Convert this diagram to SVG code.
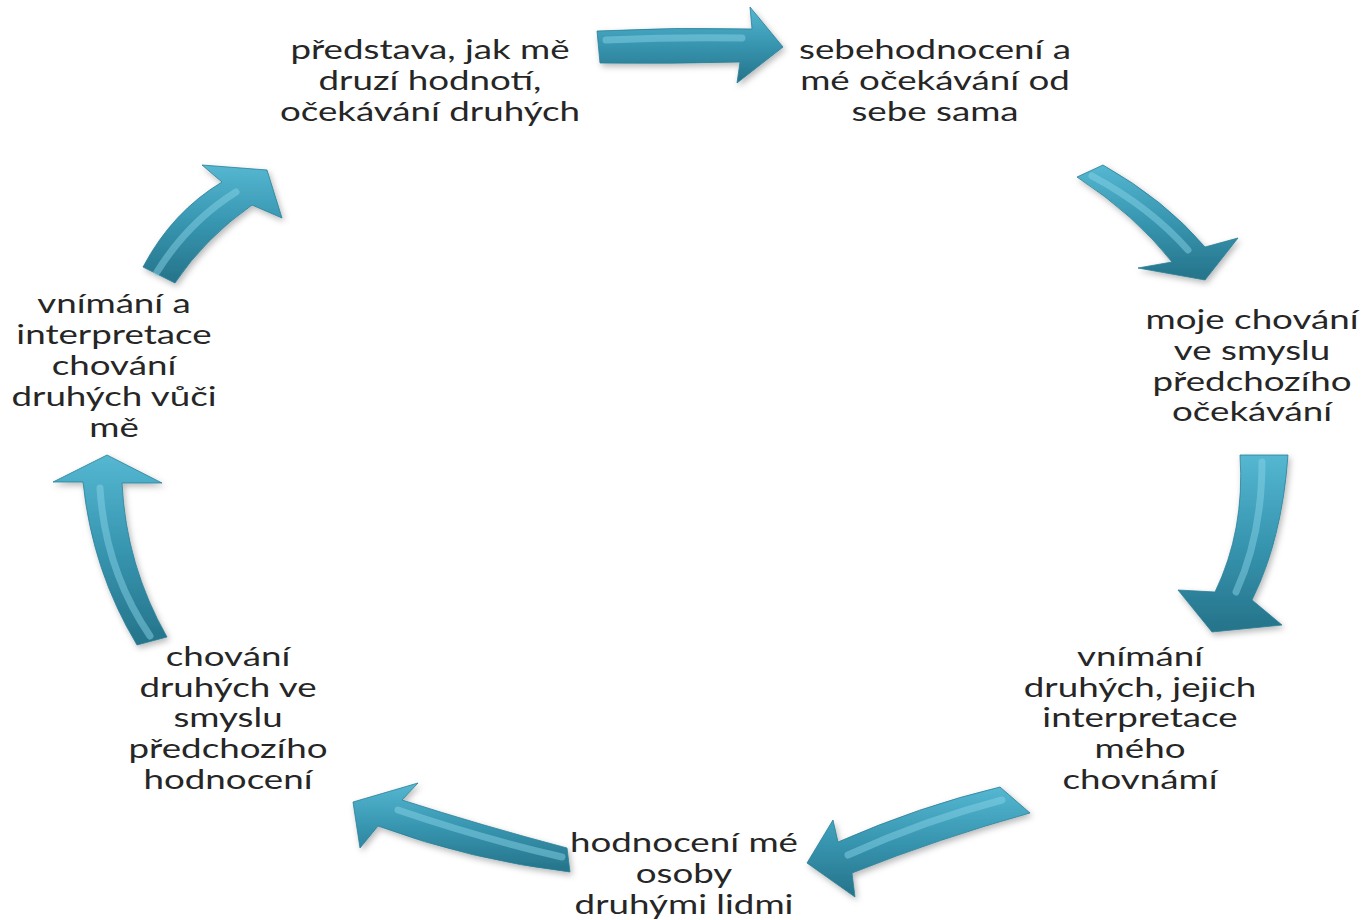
<svg xmlns="http://www.w3.org/2000/svg" width="1370" height="920" viewBox="0 0 1370 920">
<defs>
<linearGradient id="g" x1="0" y1="0" x2="0" y2="1">
<stop offset="0" stop-color="#55b7d1"/>
<stop offset="0.5" stop-color="#3795b0"/>
<stop offset="1" stop-color="#257389"/>
</linearGradient>
<filter id="sh" x="-20%" y="-20%" width="140%" height="140%">
<feDropShadow dx="2" dy="3" stdDeviation="3" flood-color="#000" flood-opacity="0.28"/>
</filter>
<style>
.arrow{fill:url(#g);stroke:#2a7f97;stroke-width:0.8;filter:url(#sh)}
.hl{fill:none;stroke:#86d2e6;stroke-width:7;stroke-linecap:round;opacity:0.5}
.t{font-family:Lato,"Open Sans",sans-serif;font-size:27px;fill:#262626;text-anchor:middle}
</style>
</defs>
<rect width="1370" height="920" fill="#ffffff"/>

<g id="connectors">
<g id="arrow1"><path class="arrow" d="M597,31 Q675,27 752,29 L750,7 L783,47 L737,83 L740,62 Q670,64 600,63 Z"/><path class="hl" d="M606,40 Q675,37 742,38"/></g>
<g id="arrow2"><path class="arrow" d="M1077,177 L1103,165 Q1165,200 1205,247 L1238,238 L1205,280 L1138,268 L1172,262 Q1135,215 1077,177 Z"/><path class="hl" d="M1092,176 Q1150,207 1188,250"/></g>
<g id="arrow3"><path class="arrow" d="M1240,455 L1288,455 Q1282,540 1252,600 L1282,625 L1212,632 L1178,590 L1215,592 Q1245,530 1240,455 Z"/><path class="hl" d="M1262,462 Q1262,535 1236,592"/></g>
<g id="arrow4"><path class="arrow" d="M1000,787 L1030,813 Q940,838 852,873 L855,897 L807,863 L833,820 L838,842 Q920,806 1000,787 Z"/><path class="hl" d="M1002,800 Q925,820 848,855"/></g>
<g id="arrow5"><path class="arrow" d="M418,783 L402,800 Q480,825 567,848 L570,872 Q470,860 378,826 L360,848 L353,802 Z"/><path class="hl" d="M398,810 Q480,838 562,857"/></g>
<g id="arrow6"><path class="arrow" d="M53,482 L107,455 L162,483 L122,483 Q126,565 167,637 L137,645 Q92,570 83,482 Z"/><path class="hl" d="M100,488 Q105,570 150,636"/></g>
<g id="arrow7"><path class="arrow" d="M143,267 Q172,212 222,182 L202,165 L267,170 L282,218 L252,205 Q205,238 175,283 Z"/><path class="hl" d="M157,272 Q188,222 236,192"/></g>
</g>

<g id="node1" transform="translate(430,0) scale(1.36,1)">
<text class="t" x="0" y="59">představa, jak mě</text>
<text class="t" x="0" y="90">druzí hodnotí,</text>
<text class="t" x="0" y="121">očekávání druhých</text>
</g>
<g id="node2" transform="translate(935,0) scale(1.36,1)">
<text class="t" x="0" y="59">sebehodnocení a</text>
<text class="t" x="0" y="90">mé očekávání od</text>
<text class="t" x="0" y="121">sebe sama</text>
</g>
<g id="node3" transform="translate(1252,0) scale(1.36,1)">
<text class="t" x="0" y="329">moje chování</text>
<text class="t" x="0" y="360">ve smyslu</text>
<text class="t" x="0" y="391">předchozího</text>
<text class="t" x="0" y="421">očekávání</text>
</g>
<g id="node4" transform="translate(1140,0) scale(1.36,1)">
<text class="t" x="0" y="666">vnímání</text>
<text class="t" x="0" y="697">druhých, jejich</text>
<text class="t" x="0" y="727">interpretace</text>
<text class="t" x="0" y="758">mého</text>
<text class="t" x="0" y="789">chovnámí</text>
</g>
<g id="node5" transform="translate(684,0) scale(1.36,1)">
<text class="t" x="0" y="852">hodnocení mé</text>
<text class="t" x="0" y="883">osoby</text>
<text class="t" x="0" y="914">druhými lidmi</text>
</g>
<g id="node6" transform="translate(228,0) scale(1.36,1)">
<text class="t" x="0" y="666">chování</text>
<text class="t" x="0" y="697">druhých ve</text>
<text class="t" x="0" y="727">smyslu</text>
<text class="t" x="0" y="758">předchozího</text>
<text class="t" x="0" y="789">hodnocení</text>
</g>
<g id="node7" transform="translate(114,0) scale(1.36,1)">
<text class="t" x="0" y="313">vnímání a</text>
<text class="t" x="0" y="344">interpretace</text>
<text class="t" x="0" y="375">chování</text>
<text class="t" x="0" y="406">druhých vůči</text>
<text class="t" x="0" y="437">mě</text>
</g>
</svg>
